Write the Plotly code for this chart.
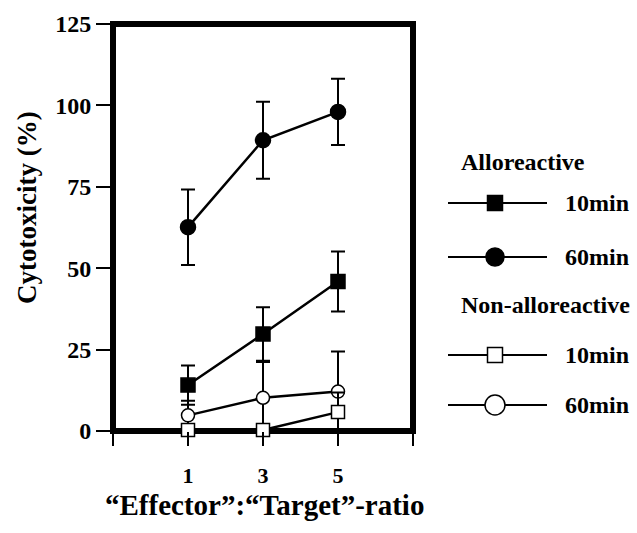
import plotly.graph_objects as go

# ---- data ----
ratio = [1, 3, 5]
allo_10 = [14.1, 29.8, 45.9]
allo_10_err = [6.0, 8.2, 9.2]
allo_60 = [62.6, 89.3, 98.0]
allo_60_err = [11.6, 11.8, 10.2]
non_10 = [0.3, 0.3, 5.8]
non_10_err = [1.0, 1.0, 6.0]
non_60 = [4.8, 10.2, 12.1]
non_60_err = [4.5, 11.0, 12.3]

y_ticks = [0, 25, 50, 75, 100, 125]
x_tickvals = [-1, 1, 3, 5, 7]
x_ticktext = ["", "1", "3", "5", ""]

FONT = "Liberation Serif"
BLACK = "black"

# plot-area pixel geometry (for legend placement)
L, R, T, B = 113, 413, 24, 431
W, H = 637, 533


def px(x):
    return (x - L) / (R - L)


def py(y):
    return (B - y) / (B - T)


fig = go.Figure()


def add_series(y, err, symbol, fill, size):
    fig.add_trace(go.Scatter(
        x=ratio, y=y, mode="lines+markers",
        line=dict(color=BLACK, width=2.5),
        marker=dict(symbol=symbol, size=size,
                    color=fill, line=dict(color=BLACK, width=1.5)),
        error_y=dict(type="data", array=err, visible=True, color=BLACK,
                     thickness=2, width=7),
        cliponaxis=False, showlegend=False,
    ))


add_series(non_60, non_60_err, "circle", "white", 13)
add_series(non_10, non_10_err, "square", "white", 13)
add_series(allo_10, allo_10_err, "square", BLACK, 14)
add_series(allo_60, allo_60_err, "circle", BLACK, 15)

shapes = []
# thick frame
shapes.append(dict(type="rect", xref="paper", yref="paper", x0=0, x1=1, y0=0, y1=1,
                   line=dict(color=BLACK, width=6), layer="below"))

# manual legend
leg_x0, leg_x1, leg_mx = 448, 547, 495
legend_rows = [
    (203, "square", BLACK, 15, "10min"),
    (257, "circle", BLACK, 18, "60min"),
    (355, "square", "white", 15, "10min"),
    (405, "circle", "white", 20, "60min"),
]
annotations = []
for yy, sym, fill, sz, label in legend_rows:
    shapes.append(dict(type="line", xref="paper", yref="paper",
                       x0=px(leg_x0), x1=px(leg_x1), y0=py(yy), y1=py(yy),
                       line=dict(color=BLACK, width=2)))
    shapes.append(dict(type="rect" if sym == "square" else "circle",
                       xref="paper", yref="paper",
                       xsizemode="pixel", ysizemode="pixel",
                       xanchor=px(leg_mx), yanchor=py(yy),
                       x0=-sz / 2, x1=sz / 2, y0=-sz / 2, y1=sz / 2,
                       fillcolor=fill, line=dict(color=BLACK, width=1.5)))
    annotations.append(dict(text=label, xref="paper", yref="paper",
                            x=px(563), y=py(yy), xanchor="left", yanchor="middle",
                            showarrow=False,
                            font=dict(family=FONT, size=24, color=BLACK, weight="bold")))

annotations.append(dict(text="Alloreactive", xref="paper", yref="paper",
                        x=px(523), y=py(162), xanchor="center", yanchor="middle",
                        showarrow=False,
                        font=dict(family=FONT, size=24, color=BLACK, weight="bold")))
annotations.append(dict(text="Non-alloreactive", xref="paper", yref="paper",
                        x=px(545), y=py(305), xanchor="center", yanchor="middle",
                        showarrow=False,
                        font=dict(family=FONT, size=24, color=BLACK, weight="bold")))
# axis titles
annotations.append(dict(text="Cytotoxicity (%)", xref="paper", yref="paper",
                        x=px(27), y=py(208), xanchor="center", yanchor="middle",
                        textangle=-90, showarrow=False,
                        font=dict(family=FONT, size=27, color=BLACK, weight="bold")))
annotations.append(dict(text="\u201cEffector\u201d:\u201cTarget\u201d-ratio", xref="paper", yref="paper",
                        x=px(264), y=py(505), xanchor="center", yanchor="middle",
                        showarrow=False,
                        font=dict(family=FONT, size=29, color=BLACK, weight="bold")))

fig.update_layout(
    width=W, height=H,
    margin=dict(l=L, r=W - R, t=T, b=H - B, pad=0),
    paper_bgcolor="white", plot_bgcolor="white",
    shapes=shapes, annotations=annotations,
    xaxis=dict(range=[-1, 7], tickvals=x_tickvals, ticktext=x_ticktext,
               showgrid=False, zeroline=False, showline=False,
               ticks="outside", ticklen=14, tickwidth=2, tickcolor=BLACK,
               ticklabelstandoff=11,
               tickfont=dict(family=FONT, size=22, color=BLACK, weight="bold")),
    yaxis=dict(range=[0, 125], tickvals=y_ticks,
               showgrid=False, zeroline=False, showline=False,
               ticks="outside", ticklen=16, tickwidth=2, tickcolor=BLACK,
               ticklabelstandoff=0,
               tickfont=dict(family=FONT, size=24, color=BLACK, weight="bold")),
)

fig.write_html("out.html", config={"displayModeBar": False},
               post_script="document.body.style.margin='0';document.body.style.overflow='hidden';")
